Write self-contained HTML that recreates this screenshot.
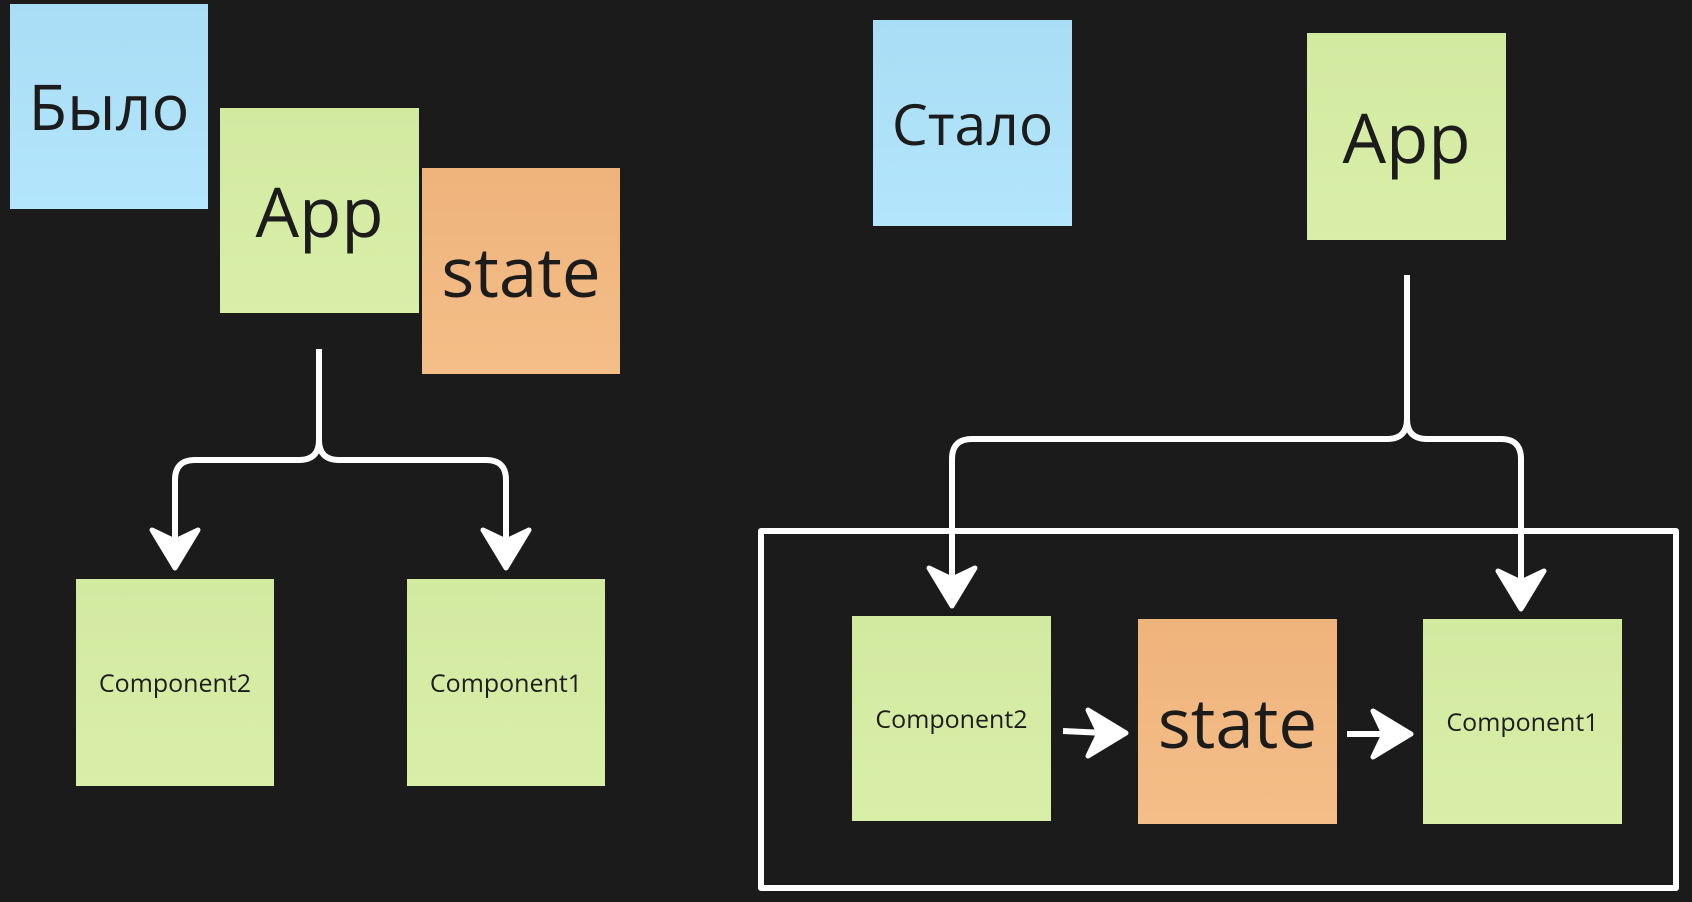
<!DOCTYPE html>
<html><head><meta charset="utf-8"><style>
html,body{margin:0;padding:0;background:#1b1b1b;}
body{width:1692px;height:902px;position:relative;overflow:hidden;font-family:"Open Sans","DejaVu Sans","Liberation Sans",sans-serif;color:#1c1c1c;}
.n{position:absolute;display:flex;align-items:center;justify-content:center;}
.b{background:linear-gradient(#a9ddf5,#b3e6fc);}
.g{background:linear-gradient(#d2e9a0,#d9efa8);}
.o{background:linear-gradient(#efb37c,#f4be88);}
svg{position:absolute;left:0;top:0;}
</style></head><body>
<div class="n b" style="left:10px;top:4px;width:198px;height:205px;font-size:63px;">Было</div>
<div class="n g" style="left:220px;top:108px;width:199px;height:205px;font-size:69px;">App</div>
<div class="n o" style="left:422px;top:168px;width:198px;height:206px;font-size:69px;">state</div>
<div class="n g" style="left:76px;top:579px;width:198px;height:207px;font-size:25px;">Component2</div>
<div class="n g" style="left:407px;top:579px;width:198px;height:207px;font-size:25px;">Component1</div>
<div class="n b" style="left:873px;top:20px;width:199px;height:206px;font-size:57px;">Стало</div>
<div class="n g" style="left:1307px;top:33px;width:199px;height:207px;font-size:69px;">App</div>
<div class="n g" style="left:852px;top:616px;width:199px;height:205px;font-size:25px;">Component2</div>
<div class="n o" style="left:1138px;top:619px;width:199px;height:205px;font-size:69px;">state</div>
<div class="n g" style="left:1423px;top:619px;width:199px;height:205px;font-size:25px;">Component1</div>
<svg width="1692" height="902" viewBox="0 0 1692 902">
<g fill="none" stroke="#fff" stroke-width="6" stroke-linejoin="round">
<rect x="761" y="531" width="915" height="357"/>
<path d="M319 349 V440 Q319 460 299 460 H195 Q175 460 175 480 V545"/>
<path d="M319 440 Q319 460 339 460 H486 Q506 460 506 480 V545"/>
<path d="M1407 275 V419 Q1407 439 1387 439 H972 Q952 439 952 459 V585"/>
<path d="M1407 419 Q1407 439 1427 439 H1501 Q1521 439 1521 459 V588"/>
<path d="M1063 731 L1105 733"/>
<path d="M1347 734 L1390 734"/>
</g>
<g fill="#fff" stroke="#fff" stroke-width="5" stroke-linejoin="round">
<path d="M175 568 L152 530 L175 541 L198 530 Z"/>
<path d="M506 568 L483 530 L506 541 L529 530 Z"/>
<path d="M952 606 L929 568 L952 579 L975 568 Z"/>
<path d="M1521 609 L1498 571 L1521 582 L1544 571 Z"/>
<path d="M1126 733 L1088 710 L1099 733 L1088 756 Z"/>
<path d="M1411 734 L1373 711 L1384 734 L1373 757 Z"/>
</g>
</svg>
</body></html>
